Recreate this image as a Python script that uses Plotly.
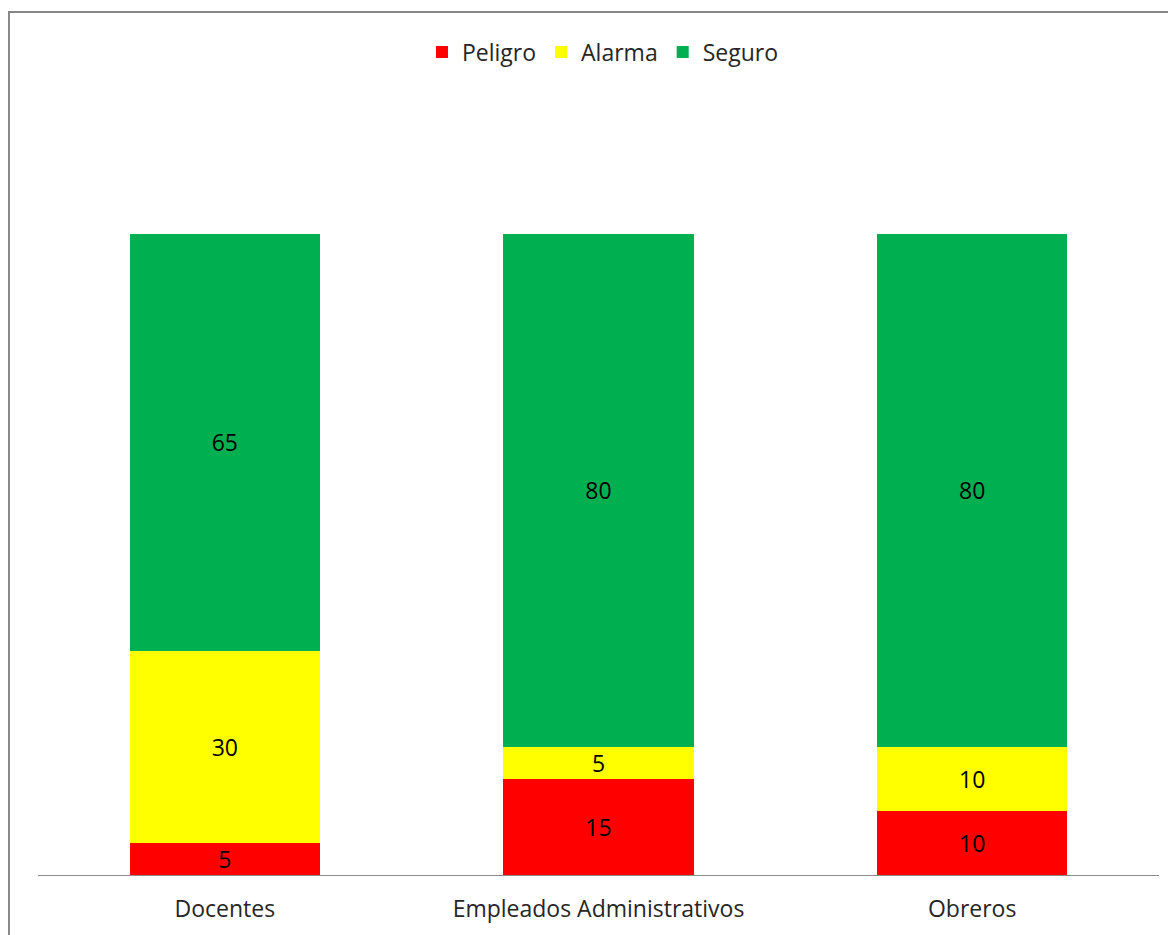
import plotly.graph_objects as go

categories = ["Docentes", "Empleados Administrativos", "Obreros"]
peligro = [5, 15, 10]
alarma = [30, 5, 10]
seguro = [65, 80, 80]

series = [
    ("Peligro", peligro, "#FF0000"),
    ("Alarma", alarma, "#FFFF00"),
    ("Seguro", seguro, "#00B050"),
]

FONT = "Open Sans, Lato, sans-serif"
FS = 23

fig = go.Figure()
for name, vals, col in series:
    fig.add_trace(go.Bar(
        name=name, x=categories, y=vals,
        marker=dict(color=col, line=dict(width=0)),
        text=[str(v) for v in vals], textposition="inside",
        insidetextanchor="middle", textangle=0,
        textfont=dict(color="#000000", size=FS, family=FONT),
        constraintext="none",
    ))

fig.update_layout(
    barmode="stack",
    bargap=0.49,
    width=1176, height=935,
    margin=dict(l=30, r=25, t=226, b=68, autoexpand=False),
    paper_bgcolor="white", plot_bgcolor="white",
    font=dict(family=FONT, size=FS, color="#262626"),
    uniformtext=dict(minsize=FS, mode="show"),
    showlegend=True,
    legend=dict(orientation="h", x=0.504, xanchor="center", y=1.284, yanchor="middle",
                font=dict(size=FS, color="#262626"), traceorder="normal",
                itemwidth=30),
    xaxis=dict(showline=True, linecolor="#8c8c8c", linewidth=1, showgrid=False,
               ticks="outside", ticklen=13, tickcolor="rgba(0,0,0,0)",
               tickfont=dict(size=FS, color="#262626")),
    yaxis=dict(range=[0, 100], visible=False, showgrid=False),
    shapes=[dict(type="rect", xref="paper", yref="paper",
                 x0=-0.0259, x1=1.2, y0=-0.2, y1=1.3463,
                 line=dict(color="#878787", width=2), fillcolor="rgba(0,0,0,0)",
                 layer="below")],
)

fig.write_html("out.html")
